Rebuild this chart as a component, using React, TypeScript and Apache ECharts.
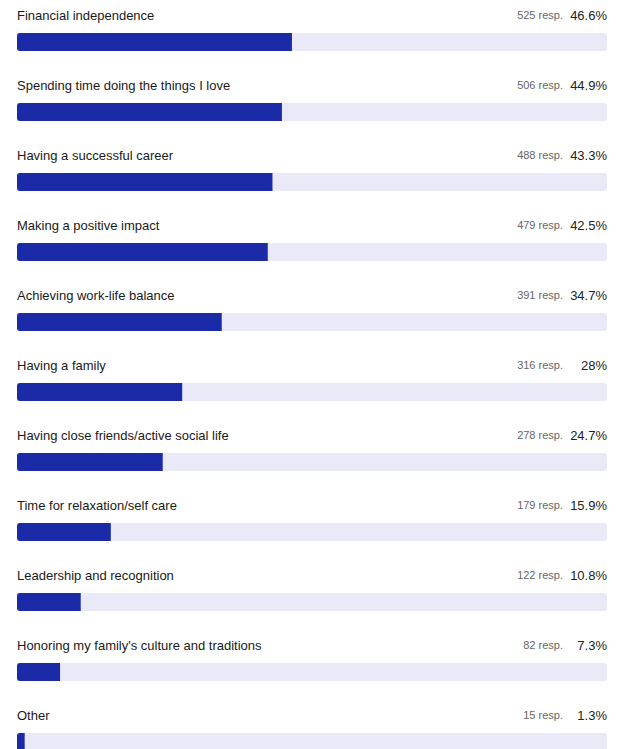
import React, { useEffect, useRef } from "react";
import * as echarts from "echarts";

const categories = [
  "Financial independence",
  "Spending time doing the things I love",
  "Having a successful career",
  "Making a positive impact",
  "Achieving work-life balance",
  "Having a family",
  "Having close friends/active social life",
  "Time for relaxation/self care",
  "Leadership and recognition",
  "Honoring my family's culture and traditions",
  "Other",
];
const responses = [525, 506, 488, 479, 391, 316, 278, 179, 122, 82, 15];
const percents = [46.6, 44.9, 43.3, 42.5, 34.7, 28, 24.7, 15.9, 10.8, 7.3, 1.3];
const scaleMax = 100;

const FONT = "'Liberation Sans', Arial, Helvetica, sans-serif";

export default function App() {
  const ref = useRef<HTMLDivElement>(null);
  useEffect(() => {
    if (!ref.current) return;
    const chart = echarts.init(ref.current, undefined, { renderer: "svg" });
    chart.setOption({
      animation: false,
      grid: { left: 17, width: 590, top: 7, height: 770 },
      xAxis: { type: "value", min: 0, max: scaleMax, show: false },
      yAxis: { type: "category", data: categories, inverse: true, show: false },
      series: [
        {
          type: "bar",
          barWidth: 18,
          barGap: "-100%",
          silent: true,
          data: categories.map(() => scaleMax),
          itemStyle: { color: "#e9e9f8", borderRadius: [0, 3, 3, 0] },
          label: {
            show: true,
            position: ["100%", -18],
            offset: [-44, 0],
            align: "right",
            verticalAlign: "middle",
            fontFamily: FONT,
            fontSize: 11,
            color: "#666",
            formatter: (p: any) => `${responses[p.dataIndex]} resp.`,
          },
        },
        {
          type: "bar",
          barWidth: 18,
          barGap: "-100%",
          silent: true,
          data: categories.map(() => scaleMax),
          itemStyle: { color: "rgba(0,0,0,0)" },
          label: {
            show: true,
            position: ["100%", -18],
            align: "right",
            verticalAlign: "middle",
            fontFamily: FONT,
            fontSize: 13,
            color: "#222",
            formatter: (p: any) => `${percents[p.dataIndex]}%`,
          },
        },
        {
          type: "bar",
          barWidth: 18,
          barGap: "-100%",
          data: percents,
          itemStyle: { color: "#1b2aa6", borderRadius: [3, 0, 0, 3] },
          label: {
            show: true,
            position: [0, -18],
            align: "left",
            verticalAlign: "middle",
            fontFamily: FONT,
            fontSize: 13,
            color: "#1a1a1a",
            formatter: (p: any) => categories[p.dataIndex],
          },
        },
      ],
    });
    return () => chart.dispose();
  }, []);
  return (
    <div
      style={{ position: "absolute", left: 0, top: 0, width: 621, height: 749, overflow: "hidden", background: "#fff" }}
    >
      <div ref={ref} style={{ width: 621, height: 780 }} />
    </div>
  );
}
